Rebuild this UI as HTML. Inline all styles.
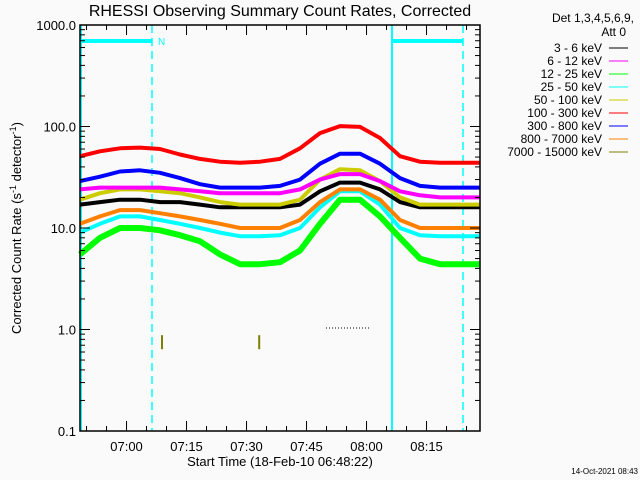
<!DOCTYPE html>
<html><head><meta charset="utf-8"><style>
body{margin:0;background:#fafafa;}
svg{display:block;font-family:"Liberation Sans",sans-serif;}
</style></head><body>
<svg id="chart" width="640" height="480" viewBox="0 0 640 480">
<rect width="640" height="480" fill="#fafafa"/>
<text x="280" y="16" font-size="16" text-anchor="middle">RHESSI Observing Summary Count Rates, Corrected</text>
<g id="plot"></g>
<text transform="translate(21,228) rotate(-90)" font-size="13" text-anchor="middle">Corrected Count Rate (s<tspan dy="-5" font-size="9">-1</tspan><tspan dy="5"> detector</tspan><tspan dy="-5" font-size="9">-1</tspan><tspan dy="5">)</tspan></text>
<text x="280" y="466" font-size="13" text-anchor="middle">Start Time (18-Feb-10 06:48:22)</text>
<text x="638" y="474" font-size="8" text-anchor="end">14-Oct-2021 08:43</text>
<g id="legend" font-size="12">
<text x="634" y="22" text-anchor="end">Det 1,3,4,5,6,9,</text>
<text x="626" y="36" text-anchor="end">Att 0</text>
</g>
</svg>
<script>
const times = [0,5,10,15,20,25,30,35,40,45,50,55,60,65,70,75,80,85,90,95,100];
const labels = ["3 - 6 keV","6 - 12 keV","12 - 25 keV","25 - 50 keV","50 - 100 keV","100 - 300 keV","300 - 800 keV","800 - 7000 keV","7000 - 15000 keV"];
const colors = ["#000000","#ff00ff","#00ff00","#00ffff","#cccc00","#ff0000","#0000ff","#ff8000","#808000"];
const s3_6 = [17,18,19,19,18,18,17,16,16,16,16,17,23,28,28,24,18,16,16,16,16];
const s6_12 = [24,25,25,25,25,24,23,22,22,22,22,24,30,34,34,29,23,21,20,20,20];
const s12_25 = [5.5,8,10,10,9.5,8.5,7.4,5.5,4.4,4.4,4.6,6,11,19,19,13,8,5,4.4,4.4,4.4];
const s25_50 = [9,11,13,13,12,11,10,9,8.3,8.3,8.5,10,16,23,23,17,10,8.5,8.3,8.3,8.3];
const s50_100 = [19,22,24,24,23,22,20,18,17,17,17,19,30,38,37,29,20,17,17,17,17];
const s100_300 = [51,57,61,62,60,53,48,45,44,45,48,61,86,101,99,77,51,45,44,44,44];
const s300_800 = [29,32,36,37,35,31,27,25,25,25,26,30,43,54,54,43,31,26,25,25,25];
const s800_7000 = [11,13,15,15,14,13,12,11,10,10,10,12,18,24,24,19,12,10,10,10,10];
const yTickVals = [1000,100,10,1,0.1];
const yTickLabels = ["1000.0","100.0","10.0","1.0","0.1"];
const xTickMins = [11.633,26.633,41.633,56.633,71.633,86.633];
const xTickLabels = ["07:00","07:15","07:30","07:45","08:00","08:15"];
const ns="http://www.w3.org/2000/svg";
const X0=80,X1=480,Y0=25,Y1=431,TMAX=100;
const xs=t=>X0+(X1-X0)*t/TMAX;
const ys=v=>Y1-(Y1-Y0)*(Math.log10(v)+1)/4;
const plot=document.getElementById('plot');
function mk(tag,at,parent){const e=document.createElementNS(ns,tag);for(const k in at)e.setAttribute(k,at[k]);(parent||plot).appendChild(e);return e;}
let e;
e=mk('line',{x1:X0+1,y1:Y0,x2:X0+1,y2:Y1,stroke:'#00ffff','stroke-width':2});


e=mk('line',{x1:392,y1:Y0,x2:392,y2:Y1,stroke:'#00ffff','stroke-width':2});


e=mk('line',{x1:152,y1:Y0,x2:152,y2:Y1,stroke:'#00ffff','stroke-width':1.5,'stroke-dasharray':'8,5'});


e=mk('line',{x1:463,y1:Y0,x2:463,y2:Y1,stroke:'#00ffff','stroke-width':1.5,'stroke-dasharray':'8,5'});


e=mk('line',{x1:X0,y1:41,x2:152,y2:41,stroke:'#00ffff','stroke-width':4});


e=mk('line',{x1:392,y1:41,x2:463,y2:41,stroke:'#00ffff','stroke-width':4});


e=mk('text',{x:158,y:45,fill:'#00ffff','font-size':10});e.textContent='N';


const series=[s3_6,s6_12,s12_25,s25_50,s50_100,s100_300,s300_800,s800_7000];
const order=[2,3,7,0,4,1,6,5];
order.forEach(i=>{
 const d=series[i].map((v,j)=>(j?'L':'M')+xs(times[j]).toFixed(1)+','+ys(v).toFixed(1)).join(' ');
 const p=mk('path',{d:d,fill:'none',stroke:colors[i],'stroke-width':i===2?6:4,'stroke-linejoin':'round'});
 
 
});
[[20.5,0.75],[44.8,0.75]].forEach(([t,v])=>{
 const l=mk('line',{x1:xs(t),y1:ys(v)-7,x2:xs(t),y2:ys(v)+7,stroke:'#808000','stroke-width':2});
 
 
});
e=mk('line',{x1:326,y1:328,x2:370,y2:328,stroke:'#000','stroke-width':1,'stroke-dasharray':'1,2'});


e=mk('rect',{x:X0,y:Y0,width:X1-X0,height:Y1-Y0,fill:'none',stroke:'#000','stroke-width':1.5});


yTickVals.forEach((v,i)=>{
 const y=ys(v);
 mk('line',{x1:X0,y1:y,x2:X0+10,y2:y,stroke:'#000'});
 mk('line',{x1:X1,y1:y,x2:X1-10,y2:y,stroke:'#000'});
 const t=mk('text',{x:X0-4,y:y+5,'font-size':13,'text-anchor':'end'});t.textContent=yTickLabels[i];
 
 
 if(v<1000)for(let m=2;m<=9;m++){const yy=ys(v*m);mk('line',{x1:X0,y1:yy,x2:X0+5,y2:yy,stroke:'#000'});mk('line',{x1:X1,y1:yy,x2:X1-5,y2:yy,stroke:'#000'});}
});
for(let t=1.633;t<TMAX;t+=5){const x=xs(t);const big=xTickMins.some(m=>Math.abs(m-t)<0.01);const L=big?10:5;
 mk('line',{x1:x,y1:Y1,x2:x,y2:Y1-L,stroke:'#000'});mk('line',{x1:x,y1:Y0,x2:x,y2:Y0+L,stroke:'#000'});}
xTickMins.forEach((m,i)=>{const t=mk('text',{x:xs(m),y:451,'font-size':13,'text-anchor':'middle'});t.textContent=xTickLabels[i];
 
 });
const lg=document.getElementById('legend');
labels.forEach((lab,i)=>{const y=48+i*13;
 const t=mk('text',{x:602,y:y+4,'text-anchor':'end'},lg);t.textContent=lab;
 
 
 const l=mk('line',{x1:609,y1:y,x2:628,y2:y,stroke:colors[i]},lg);
 
 
});
</script>
</body></html>
